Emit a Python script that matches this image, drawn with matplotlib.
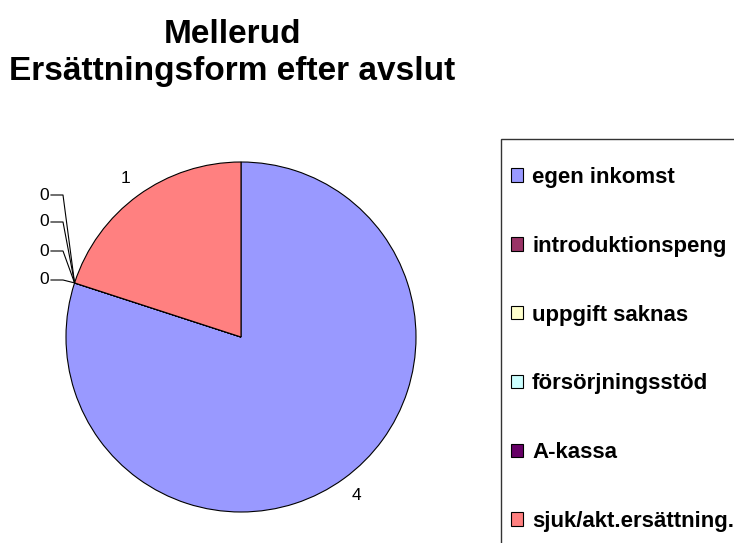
import numpy as np
import matplotlib
matplotlib.use("Agg")
import matplotlib.pyplot as plt
from matplotlib.patches import Rectangle

plt.rcParams['font.family'] = ['Liberation Sans', 'DejaVu Sans']

title_lines = ["Mellerud", "Ersättningsform efter avslut"]
categories = ["egen inkomst", "introduktionspeng", "uppgift saknas",
              "försörjningsstöd", "A-kassa", "sjuk/akt.ersättning."]
values = [4, 0, 0, 0, 0, 1]
colors = ["#9999FF", "#993366", "#FFFFCC", "#CCFFFF", "#660066", "#FF8080"]

W, H = 734, 543
fig = plt.figure(figsize=(W / 100, H / 100), dpi=100)
ax = fig.add_axes([0, 0, 1, 1])

cx, cy, R = 241, H - 337, 175
wedges, _ = ax.pie(values, colors=colors, startangle=90, counterclock=False,
                   center=(cx, cy), radius=R, frame=True,
                   wedgeprops=dict(edgecolor='black', linewidth=0.8))
ax.set_xlim(0, W)
ax.set_ylim(0, H)
ax.set_aspect('equal')
ax.axis('off')

# data labels
total = sum(values)
cum = 0.0
zero_idx = 0
zero_label_y = [195, 222, 251, 280]
for v in values:
    a0 = 90 - 360 * cum / total
    a1 = 90 - 360 * (cum + v) / total
    mid = np.deg2rad((a0 + a1) / 2)
    if v > 0:
        ax.text(cx + 1.12 * R * np.cos(mid), cy + 1.12 * R * np.sin(mid), str(v),
                ha='center', va='center', fontsize=12.5)
    else:
        ex, ey = cx + R * np.cos(mid), cy + R * np.sin(mid)
        ly = H - zero_label_y[3 - zero_idx]
        ax.plot([51, 63, ex], [ly, ly, ey], color='black', lw=0.8)
        ax.text(49, ly, str(v), ha='right', va='center', fontsize=12.5)
        zero_idx += 1
    cum += v

# title
fig.text(232 / W, 1 - 43 / H, title_lines[0], ha='center', va='baseline',
         fontsize=24, fontweight='bold')
fig.text(232 / W, 1 - 80 / H, title_lines[1], ha='center', va='baseline',
         fontsize=24, fontweight='bold')

# legend frame
ax.add_patch(Rectangle((501, -20), 260, H - 139 + 20, facecolor='none',
                       edgecolor='#333333', lw=1.0, clip_on=False))
leg = ax.legend(wedges, categories, loc='upper left',
                bbox_to_anchor=(511 / W, 1 - 167 / H), frameon=False,
                prop=dict(weight='bold', size=16), handlelength=0.55,
                handleheight=0.55, handletextpad=0.4, labelspacing=2.15,
                borderpad=0, borderaxespad=0)

fig.savefig("out.png", dpi=100)
